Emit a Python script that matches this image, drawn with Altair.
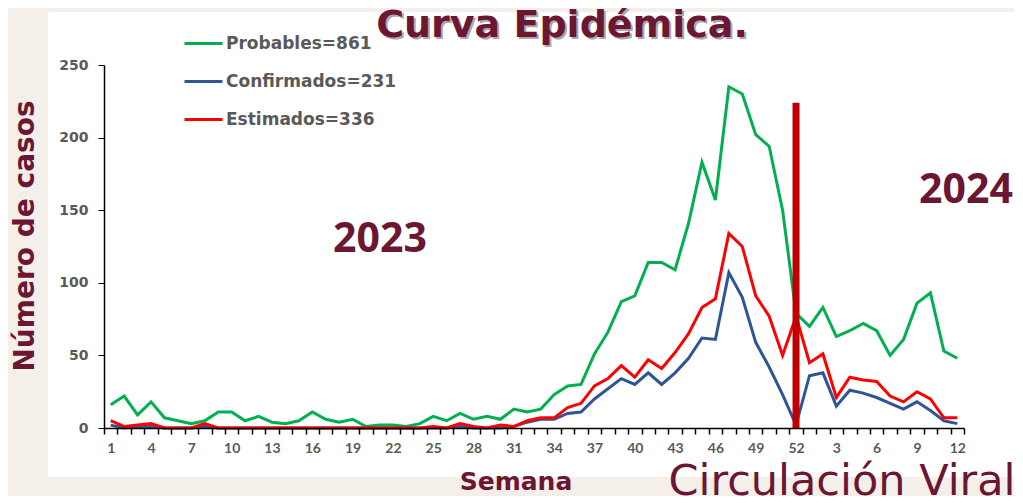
import altair as alt
import pandas as pd

weeks_2023 = list(range(1, 53))
weeks_2024 = list(range(1, 13))

probables = [16, 22, 9, 18, 7, 5, 3, 5, 11, 11, 5, 8, 4, 3, 5, 11, 6, 4, 6, 1,
             2, 2, 1, 3, 8, 5, 10, 6, 8, 6, 13, 11, 13, 23, 29, 30, 51, 66, 87, 91,
             114, 114, 109, 141, 183, 157, 235, 230, 202, 194, 150, 79,
             70, 83, 63, 67, 72, 67, 50, 61, 86, 93, 53, 48]
confirmados = [2, 0, 1, 1, 0, 0, 0, 1, 0, 0, 0, 0, 0, 0, 0, 0, 0, 0, 0, 0,
               0, 0, 0, 0, 0, 0, 1, 0, 0, 0, 1, 4, 6, 6, 10, 11, 20, 27, 34, 30,
               38, 30, 38, 48, 62, 61, 107, 90, 59, 42, 23, 2,
               36, 38, 15, 26, 24, 21, 17, 13, 18, 12, 5, 3]
estimados = [5, 1, 2, 3, 0, 0, 0, 3, 0, 0, 0, 0, 0, 0, 0, 0, 0, 0, 0, 0,
             0, 0, 0, 0, 1, 0, 3, 1, 0, 2, 1, 5, 7, 7, 14, 17, 29, 34, 43, 35,
             47, 41, 52, 65, 83, 89, 134, 125, 91, 77, 50, 77,
             45, 51, 21, 35, 33, 32, 22, 18, 25, 20, 7, 7]

series_names = ["Probables=861", "Confirmados=231", "Estimados=336"]
series_colors = ["#00b050", "#2f5597", "#ff0000"]

cut_week_index = 51
cut_top = 224

week_labels = [str(w) for w in weeks_2023] + [str(w) for w in weeks_2024]
n = len(week_labels)

rows = []
for name, vals in zip(series_names, [probables, confirmados, estimados]):
    for i, v in enumerate(vals):
        rows.append({"idx": i, "semana": week_labels[i], "serie": name, "casos": v})
df = pd.DataFrame(rows)

maroon = "#6b1632"
gray = "#595959"

xscale = alt.Scale(domain=[-0.5, n - 0.5], nice=False, zero=False)
yscale = alt.Scale(domain=[0, 250], nice=False)

label_expr = "datum.value < 52 ? datum.value + 1 : datum.value - 51"

y_axis = alt.Axis(values=[0, 50, 100, 150, 200, 250], grid=False, tickSize=6,
                  tickColor="#000000", domainColor="#000000", domainWidth=1.5,
                  labelFont="DejaVu Sans", labelFontSize=14, labelFontWeight="bold",
                  labelColor=gray, labelPadding=10, title=None, zindex=1)

lines = alt.Chart(df).mark_line(strokeWidth=3).encode(
    x=alt.X("idx:Q", scale=xscale,
            axis=alt.Axis(values=list(range(0, n, 3)), labelExpr=label_expr, ticks=False,
                          grid=False, domain=True, domainColor="#000000", domainWidth=1.5,
                          labelFont="Lato", labelFontSize=14, labelFontWeight="bold",
                          labelColor=gray, labelPadding=13, title=None, orient="bottom",
                          labelOverlap=False, zindex=1)),
    y=alt.Y("casos:Q", scale=yscale, axis=y_axis),
    color=alt.Color("serie:N", scale=alt.Scale(domain=series_names, range=series_colors),
                    legend=alt.Legend(orient="none", legendX=79, legendY=-42, title=None,
                                      symbolType="stroke", symbolSize=1444,
                                      symbolStrokeWidth=3, rowPadding=9,
                                      labelFont="DejaVu Sans", labelFontSize=17,
                                      labelFontWeight="bold", labelColor=gray,
                                      labelOffset=2, labelLimit=400)),
)

ticks_df = pd.DataFrame({"t": [i - 0.5 for i in range(n + 1)]})
tick_axis = alt.Chart(ticks_df).mark_point(opacity=0).encode(
    x=alt.X("t:Q", scale=xscale,
            axis=alt.Axis(values=[i - 0.5 for i in range(n + 1)], labels=False,
                          ticks=True, tickSize=6, tickColor="#000000", tickWidth=1.5,
                          domain=False, grid=False, title=None, orient="bottom",
                          zindex=1)),
)

cut_df = pd.DataFrame({"idx": [cut_week_index], "casos": [0], "tope": [cut_top]})
cut = alt.Chart(cut_df).mark_rule(color="#c00000", strokeWidth=7).encode(
    x=alt.X("idx:Q", scale=xscale, axis=None),
    y=alt.Y("casos:Q", scale=yscale, axis=y_axis),
    y2="tope:Q",
)

# white slide panel on the beige background
panel = alt.Chart(pd.DataFrame({"p": [0]})).mark_rect(color="#ffffff").encode(
    x=alt.value(-56), x2=alt.value(930), y=alt.value(-53), y2=alt.value(412),
)

def label(text, x, y, size, weight="bold", color=maroon, angle=0,
          font="DejaVu Sans", baseline="alphabetic"):
    return alt.Chart(pd.DataFrame({"t": [text]})).mark_text(
        font=font, fontSize=size, fontWeight=weight, color=color, angle=angle,
        align="center", baseline=baseline,
    ).encode(text="t:N", x=alt.value(x), y=alt.value(y))

title_shadow = label("Curva Epidémica.", 460, -26, 38, color="#b3a6aa")
title = label("Curva Epidémica.", 458, -28, 38)
t2023 = label("2023", 276, 187, 41, font="Open Sans")
t2024 = label("2024", 862, 138, 41, font="Open Sans")
semana = label("Semana", 412, 425, 25)
circ = label("Circulación Viral", 738, 430, 43, weight="normal")
ytitle = label("Número de casos", -78, 171, 28, angle=270, baseline="middle")

chart = alt.layer(
    panel, tick_axis, lines, cut, title_shadow, title, t2023, t2024, semana, circ, ytitle
).resolve_axis(x="independent").properties(
    width=860, height=363,
    autosize=alt.AutoSizeParams(type="none"),
    padding={"left": 96, "top": 57, "right": 50, "bottom": 68},
    background="#f5efe9",
).configure_view(stroke=None)

chart.save("out.html", embed_options={"renderer": "svg", "actions": False})
